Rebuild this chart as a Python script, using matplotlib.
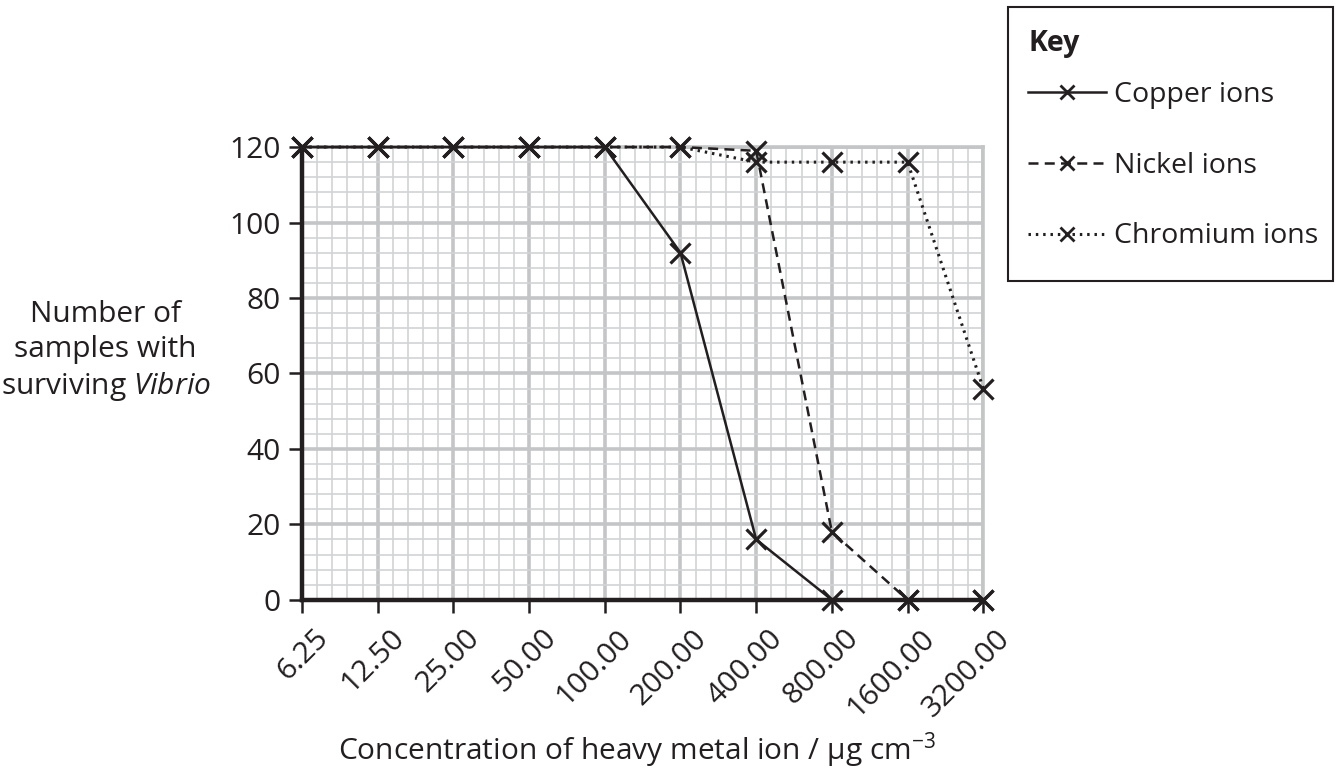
import matplotlib
matplotlib.use("Agg")
import matplotlib.pyplot as plt
from matplotlib.patches import Rectangle
from matplotlib.ticker import MultipleLocator
from matplotlib.transforms import ScaledTranslation

plt.rcParams['font.family'] = ['Open Sans', 'DejaVu Sans']
plt.rcParams['mathtext.fontset'] = 'custom'
plt.rcParams['mathtext.rm'] = 'Open Sans'
plt.rcParams['mathtext.it'] = 'Open Sans:italic'
plt.rcParams['mathtext.bf'] = 'Open Sans:bold'

# data
conc_labels = ['6.25', '12.50', '25.00', '50.00', '100.00', '200.00',
               '400.00', '800.00', '1600.00', '3200.00']
copper = [120, 120, 120, 120, 120, 92, 16, 0, 0, 0]
nickel = [120, 120, 120, 120, 120, 120, 119, 18, 0, 0]
chromium = [120, 120, 120, 120, 120, 120, 116, 116, 116, 56]
y_ticks = [0, 20, 40, 60, 80, 100, 120]

x = list(range(len(conc_labels)))
txt = '#231f20'
fs = 21.5

fig = plt.figure(figsize=(13.36, 7.78), dpi=100)
ax = fig.add_axes([0.226, 0.229, 0.510, 0.582])

# graph paper grid
ax.set_xlim(0, len(conc_labels) - 1)
ax.set_ylim(0, 120)
ax.xaxis.set_minor_locator(MultipleLocator(0.2))
ax.yaxis.set_minor_locator(MultipleLocator(4))
ax.set_xticks(x)
ax.set_yticks(y_ticks)
ax.grid(which='minor', color='#d2d3d5', linewidth=1.2, zorder=0)
ax.grid(which='major', color='#c4c5c7', linewidth=2.6, zorder=0)
ax.set_axisbelow(True)

ax.plot(x, chromium, color=txt, linestyle=(0, (0.8, 1.6)), linewidth=2.2,
        marker='x', markersize=14, markeredgewidth=2.3, clip_on=False,
        label='Chromium ions', zorder=3)
ax.plot(x, nickel, color=txt, linestyle=(0, (4, 2.5)), linewidth=1.8,
        marker='x', markersize=14, markeredgewidth=2.3, clip_on=False,
        label='Nickel ions', zorder=4)
ax.plot(x, copper, color=txt, linestyle='-', linewidth=1.8,
        marker='x', markersize=14, markeredgewidth=2.3, clip_on=False,
        label='Copper ions', zorder=5)

for s in ['left', 'bottom']:
    ax.spines[s].set_color(txt)
    ax.spines[s].set_linewidth(3.2)
    ax.spines[s].set_zorder(2.5)
for s in ['top', 'right']:
    ax.spines[s].set_color('#c4c5c7')
    ax.spines[s].set_linewidth(2.6)

ax.tick_params(axis='both', which='major', direction='out', length=9.5,
               width=1.8, color=txt, labelsize=fs, labelcolor=txt)
ax.tick_params(axis='both', which='minor', length=0)
ax.tick_params(axis='y', pad=6)
ax.set_xticklabels(conc_labels, rotation=45, ha='right', va='top',
                   rotation_mode='anchor')
shift = ScaledTranslation(12 / 100, -6 / 100, fig.dpi_scale_trans)
for lab in ax.get_xticklabels():
    lab.set_transform(lab.get_transform() + shift)

fig.text(0.079, 0.548, 'Number of\nsamples with\nsurviving $\\it{Vibrio}$',
         ha='center', va='center', fontsize=fs, color=txt, linespacing=1.25)
fig.text(0.477, 0.036, 'Concentration of heavy metal ion / \u03bcg cm$^{-3}$',
         ha='center', va='center', fontsize=fs, color=txt)

# key box
lfs = 20.5
fig.patches.append(Rectangle((0.7545, 0.6388), 0.2433, 0.3522,
                             transform=fig.transFigure, facecolor='white',
                             edgecolor=txt, linewidth=1.5, zorder=0))
fig.text(0.7695, 0.9447, 'Key', ha='left', va='center', fontsize=lfs,
         fontweight='bold', color=txt)
handles, labels = ax.get_legend_handles_labels()
leg = fig.legend(handles[::-1], labels[::-1],
                 loc='upper left', bbox_to_anchor=(0.763, 0.9068),
                 fontsize=lfs, frameon=False,
                 borderaxespad=0, handlelength=2.74, handletextpad=0.3,
                 labelspacing=1.5, borderpad=0.3)
for t in leg.get_texts():
    t.set_color(txt)
for h in leg.legend_handles:
    h.set_markersize(10)
    h.set_markeredgewidth(2.0)

fig.savefig('out.png', dpi=100)
